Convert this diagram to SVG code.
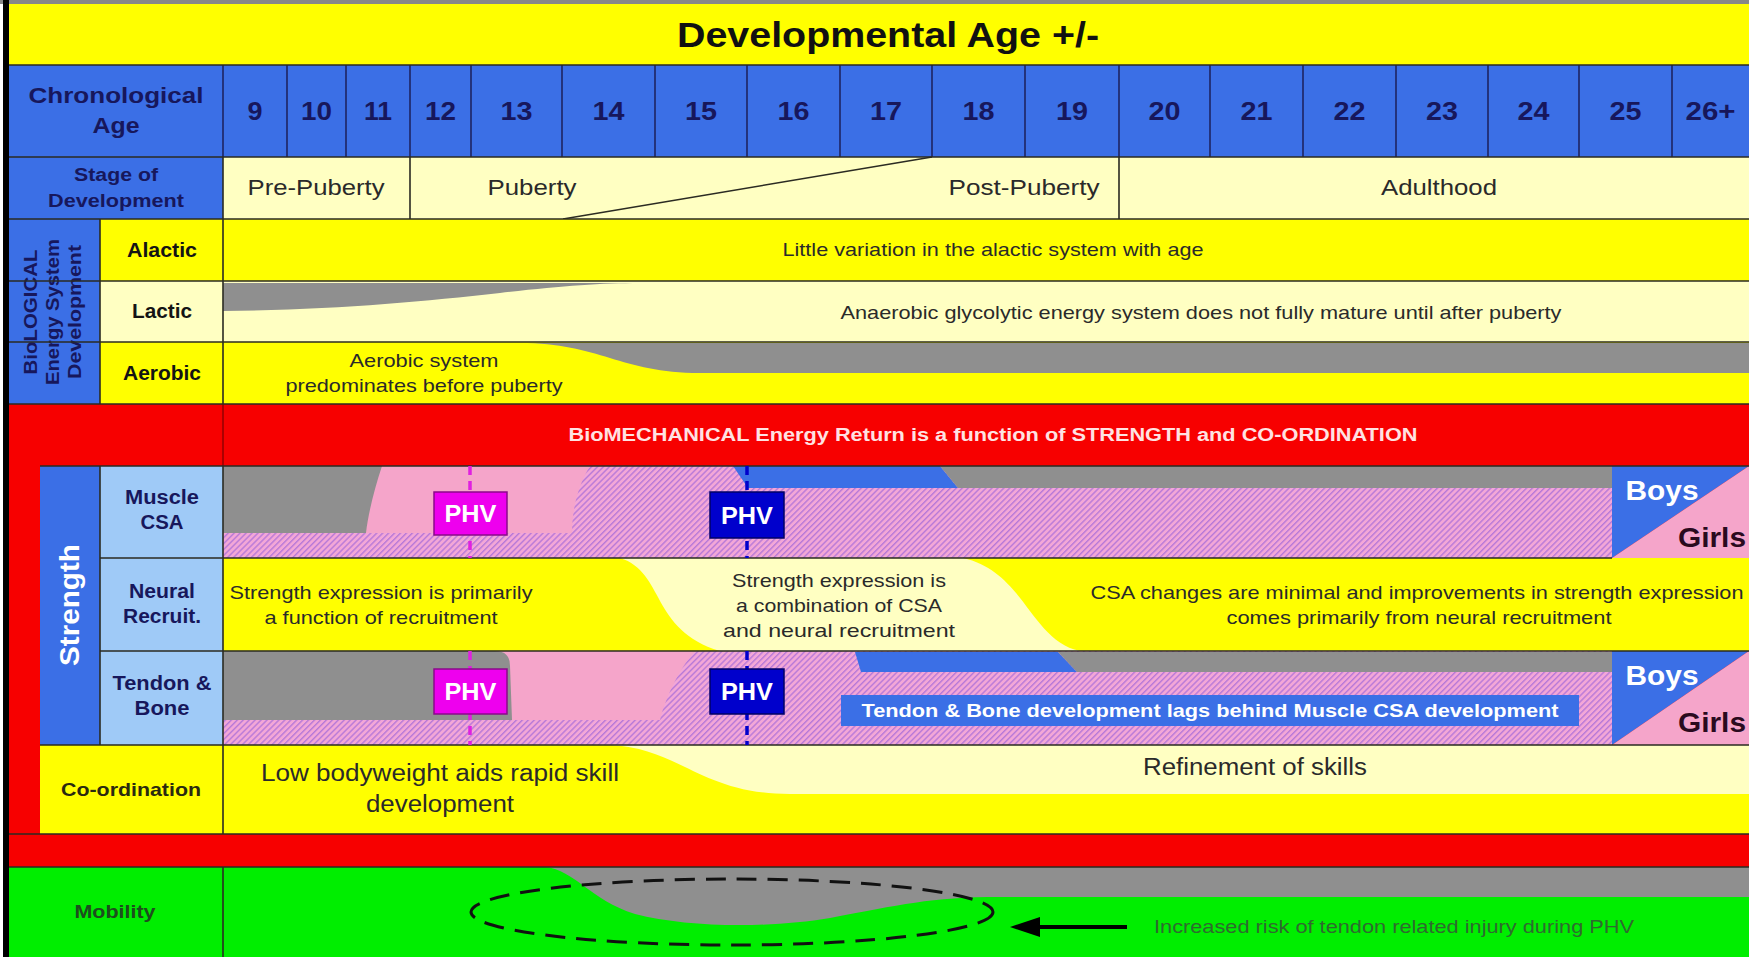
<svg xmlns="http://www.w3.org/2000/svg" width="1749" height="957" viewBox="0 0 1749 957">
<defs>
<pattern id="hatch" width="4.2" height="4.2" patternUnits="userSpaceOnUse" patternTransform="rotate(45)">
<rect width="4.2" height="4.2" fill="#f3a7d7"/>
<rect width="1.4" height="4.2" fill="#b779d8"/>
</pattern>
<marker id="ah" viewBox="0 0 30 20" refX="0" refY="10" markerWidth="30" markerHeight="20" markerUnits="userSpaceOnUse" orient="auto">
<path d="M0,0 L30,10 L0,20 Z" fill="#000"/>
</marker>
<style>
text{font-family:"Liberation Sans",Arial,Helvetica,sans-serif}
.b{font-weight:bold}
.c{text-anchor:middle}
.navy{fill:#17175c}
.hdr{fill:#3b6fe6}
.yel{fill:#ffff00}
.lyel{fill:#ffffc2}
.gray{fill:#8f8f8f}
.pink{fill:#f5a5ca}
.lb{fill:#9fcaf7}
.red{fill:#f70000}
.grn{fill:#00ee00}
.hat{fill:url(#hatch)}
.ln{stroke:#2b2b22;stroke-width:1.6;fill:none}
.lnn{stroke:#1a1a50;stroke-width:1.4;fill:none}
.num{font-size:25px;font-weight:bold;fill:#17175c;text-anchor:middle}
.stg{font-size:22px;fill:#2a2a2a;text-anchor:middle}
.body{font-size:19px;fill:#2a2a2a;text-anchor:middle}
.rl{font-size:20px;font-weight:bold;fill:#141414;text-anchor:middle}
.sl{font-size:20px;font-weight:bold;fill:#17175c;text-anchor:middle}
.phv{font-size:24px;font-weight:bold;fill:#fff;text-anchor:middle}
.boys{font-size:27px;font-weight:bold;fill:#fff;text-anchor:middle}
.girls{font-size:27px;font-weight:bold;fill:#2a0a1e;text-anchor:middle}
.dashm{stroke:#e020e0;stroke-width:3.5;stroke-dasharray:9 6;fill:none}
.dashb{stroke:#0000cc;stroke-width:3.5;stroke-dasharray:9 6;fill:none}
</style>
</defs>

<rect x="0" y="0" width="1749" height="957" fill="#ffffff"/>
<rect x="0" y="0" width="1749" height="4" fill="#888"/>

<g id="title">
<rect x="9" y="4" width="1740" height="61" class="yel"/>
<text x="888" y="47" class="c b" font-size="35" fill="#111" textLength="422" lengthAdjust="spacingAndGlyphs">Developmental Age +/-</text>
</g>

<g id="chronological-age">
<rect x="9" y="65" width="1740" height="92" class="hdr"/>
<text x="116" y="103" class="c b navy" font-size="22" textLength="175" lengthAdjust="spacingAndGlyphs">Chronological</text>
<text x="116" y="133" class="c b navy" font-size="22" textLength="47" lengthAdjust="spacingAndGlyphs">Age</text>
<g id="age-columns">
<path class="lnn" d="M223,65V157 M287,65V157 M346,65V157 M410,65V157 M471,65V157 M562,65V157 M655,65V157 M747,65V157 M840,65V157 M932,65V157 M1025,65V157 M1119,65V157 M1210,65V157 M1303,65V157 M1396,65V157 M1488,65V157 M1579,65V157 M1672,65V157"/>
<text class="num" x="255" y="120" textLength="15" lengthAdjust="spacingAndGlyphs">9</text>
<text class="num" x="316.5" y="120" textLength="31" lengthAdjust="spacingAndGlyphs">10</text>
<text class="num" x="378" y="120" textLength="28" lengthAdjust="spacingAndGlyphs">11</text>
<text class="num" x="440.5" y="120" textLength="31" lengthAdjust="spacingAndGlyphs">12</text>
<text class="num" x="516.5" y="120" textLength="32" lengthAdjust="spacingAndGlyphs">13</text>
<text class="num" x="608.5" y="120" textLength="32" lengthAdjust="spacingAndGlyphs">14</text>
<text class="num" x="701" y="120" textLength="32" lengthAdjust="spacingAndGlyphs">15</text>
<text class="num" x="793.5" y="120" textLength="32" lengthAdjust="spacingAndGlyphs">16</text>
<text class="num" x="886" y="120" textLength="32" lengthAdjust="spacingAndGlyphs">17</text>
<text class="num" x="978.5" y="120" textLength="32" lengthAdjust="spacingAndGlyphs">18</text>
<text class="num" x="1072" y="120" textLength="32" lengthAdjust="spacingAndGlyphs">19</text>
<text class="num" x="1164.5" y="120" textLength="32" lengthAdjust="spacingAndGlyphs">20</text>
<text class="num" x="1256.5" y="120" textLength="32" lengthAdjust="spacingAndGlyphs">21</text>
<text class="num" x="1349.5" y="120" textLength="32" lengthAdjust="spacingAndGlyphs">22</text>
<text class="num" x="1442" y="120" textLength="32" lengthAdjust="spacingAndGlyphs">23</text>
<text class="num" x="1533.5" y="120" textLength="32" lengthAdjust="spacingAndGlyphs">24</text>
<text class="num" x="1625.5" y="120" textLength="32" lengthAdjust="spacingAndGlyphs">25</text>
<text class="num" x="1710.5" y="120" textLength="50" lengthAdjust="spacingAndGlyphs">26+</text>
</g>
</g>

<g id="stage-of-development">
<rect x="9" y="157" width="214" height="62" class="hdr"/>
<rect x="223" y="157" width="1526" height="62" class="lyel"/>
<text x="116" y="181" class="c b navy" font-size="18" textLength="84" lengthAdjust="spacingAndGlyphs">Stage of</text>
<text x="116" y="207" class="c b navy" font-size="18" textLength="136" lengthAdjust="spacingAndGlyphs">Development</text>
<path class="ln" d="M410,157V219 M1119,157V219 M563,219 L932,157"/>
<text class="stg" x="316" y="195" textLength="137" lengthAdjust="spacingAndGlyphs">Pre-Puberty</text>
<text class="stg" x="532" y="195" textLength="89" lengthAdjust="spacingAndGlyphs">Puberty</text>
<text class="stg" x="1024" y="195" textLength="151" lengthAdjust="spacingAndGlyphs">Post-Puberty</text>
<text class="stg" x="1439" y="195" textLength="116" lengthAdjust="spacingAndGlyphs">Adulthood</text>
</g>

<g id="biological">
<rect x="9" y="219" width="91" height="185" class="hdr"/>
<g transform="translate(54,312) rotate(-90)">
<text x="0" y="-17" class="c b navy" font-size="19" textLength="125" lengthAdjust="spacingAndGlyphs">BioLOGICAL</text>
<text x="0" y="5" class="c b navy" font-size="19" textLength="146" lengthAdjust="spacingAndGlyphs">Energy System</text>
<text x="0" y="27" class="c b navy" font-size="19" textLength="134" lengthAdjust="spacingAndGlyphs">Development</text>
</g>
</g>

<g id="alactic">
<rect x="100" y="219" width="1649" height="62" class="yel"/>
<text class="rl" x="162" y="257" textLength="70" lengthAdjust="spacingAndGlyphs">Alactic</text>
<text class="body" x="993" y="256" textLength="421" lengthAdjust="spacingAndGlyphs">Little variation in the alactic system with age</text>
</g>

<g id="lactic">
<rect x="100" y="281" width="1649" height="61" class="lyel"/>
<path class="gray" d="M223,283 L223,311 C330,310 420,302 500,293 C560,286 600,283 640,283 Z"/>
<text class="rl" x="162" y="318" textLength="60" lengthAdjust="spacingAndGlyphs">Lactic</text>
<text class="body" x="1201" y="319" textLength="721" lengthAdjust="spacingAndGlyphs">Anaerobic glycolytic energy system does not fully mature until after puberty</text>
</g>

<g id="aerobic">
<rect x="100" y="342" width="1649" height="62" class="yel"/>
<path class="gray" d="M520,343 C600,343 620,373 700,373 L1749,373 L1749,343 Z"/>
<text class="rl" x="162" y="380" textLength="78" lengthAdjust="spacingAndGlyphs">Aerobic</text>
<text class="body" x="424" y="367" textLength="149" lengthAdjust="spacingAndGlyphs">Aerobic system</text>
<text class="body" x="424" y="392" textLength="277" lengthAdjust="spacingAndGlyphs">predominates before puberty</text>
</g>

<g id="biomechanical">
<rect x="9" y="404" width="1740" height="463" class="red"/>
<path d="M223,404V466" stroke="#7a0000" stroke-width="1.2"/>
<text x="993" y="441" class="c b" font-size="18" fill="#ffe2e2" textLength="849" lengthAdjust="spacingAndGlyphs">BioMECHANICAL Energy Return is a function of STRENGTH and CO-ORDINATION</text>
</g>

<g id="strength">
<rect x="40" y="466" width="60" height="279" class="hdr"/>
<text transform="translate(79,605) rotate(-90)" x="0" y="0" class="c b" font-size="28" fill="#fff" textLength="122" lengthAdjust="spacingAndGlyphs">Strength</text>
</g>

<g id="muscle-csa">
<rect x="100" y="466" width="123" height="92" class="lb"/>
<text class="sl" x="162" y="504" textLength="74" lengthAdjust="spacingAndGlyphs">Muscle</text>
<text class="sl" x="162" y="529" textLength="43" lengthAdjust="spacingAndGlyphs">CSA</text>
<rect x="223" y="466" width="1389" height="92" class="hat"/>
<path class="pink" d="M223,466 L590,466 C578,485 572,510 572,533 L223,533 Z"/>
<path class="gray" d="M223,466 L382,466 C374,490 368,515 366,533 L223,533 Z"/>
<path class="hdr" d="M733,466 L940,466 L958,488 L748,488 Z"/>
<path class="gray" d="M940,466 L1612,466 L1612,488 L958,488 Z"/>
<path class="hdr" d="M1612,466 L1749,466 L1612,558 Z"/>
<path class="pink" d="M1749,466 L1749,558 L1612,558 Z"/>
<text class="boys" x="1662" y="500" textLength="73" lengthAdjust="spacingAndGlyphs">Boys</text>
<text class="girls" x="1712" y="547" textLength="68" lengthAdjust="spacingAndGlyphs">Girls</text>
</g>

<g id="neural-recruitment">
<rect x="100" y="558" width="123" height="93" class="lb"/>
<text class="sl" x="162" y="598" textLength="66" lengthAdjust="spacingAndGlyphs">Neural</text>
<text class="sl" x="162" y="623" textLength="78" lengthAdjust="spacingAndGlyphs">Recruit.</text>
<rect x="223" y="558" width="1526" height="93" class="yel"/>
<path class="lyel" d="M620,558 C665,572 650,630 720,651 L1080,651 C1030,640 1025,572 963,558 Z"/>
<text class="body" x="381" y="599" textLength="303" lengthAdjust="spacingAndGlyphs">Strength expression is primarily</text>
<text class="body" x="381" y="624" textLength="233" lengthAdjust="spacingAndGlyphs">a function of recruitment</text>
<text class="body" x="839" y="587" textLength="214" lengthAdjust="spacingAndGlyphs">Strength expression is</text>
<text class="body" x="839" y="612" textLength="206" lengthAdjust="spacingAndGlyphs">a combination of CSA</text>
<text class="body" x="839" y="637" textLength="232" lengthAdjust="spacingAndGlyphs">and neural recruitment</text>
<text class="body" x="1417" y="599" textLength="653" lengthAdjust="spacingAndGlyphs">CSA changes are minimal and improvements in strength expression</text>
<text class="body" x="1419" y="624" textLength="385" lengthAdjust="spacingAndGlyphs">comes primarily from neural recruitment</text>
</g>

<g id="tendon-bone">
<rect x="100" y="651" width="123" height="94" class="lb"/>
<text class="sl" x="162" y="690" textLength="99" lengthAdjust="spacingAndGlyphs">Tendon &amp;</text>
<text class="sl" x="162" y="715" textLength="55" lengthAdjust="spacingAndGlyphs">Bone</text>
<rect x="223" y="651" width="1389" height="94" class="hat"/>
<path class="pink" d="M223,651 L695,651 C678,670 665,700 660,720 L223,720 Z"/>
<path class="gray" d="M223,651 L495,651 Q510,651 510,666 L512,720 L223,720 Z"/>
<path class="hdr" d="M855,652 L1058,652 L1077,672 L861,672 Z"/>
<path class="gray" d="M1058,652 L1612,652 L1612,672 L1077,672 Z"/>
<rect x="841" y="695" width="738" height="31" class="hdr"/>
<text x="1210" y="717" class="c b" font-size="19" fill="#fff" textLength="697" lengthAdjust="spacingAndGlyphs">Tendon &amp; Bone development lags behind Muscle CSA development</text>
<path class="hdr" d="M1612,651 L1749,651 L1612,745 Z"/>
<path class="pink" d="M1749,651 L1749,745 L1612,745 Z"/>
<text class="boys" x="1662" y="685" textLength="73" lengthAdjust="spacingAndGlyphs">Boys</text>
<text class="girls" x="1712" y="732" textLength="68" lengthAdjust="spacingAndGlyphs">Girls</text>
</g>

<g id="co-ordination">
<rect x="40" y="745" width="1709" height="89" class="yel"/>
<path class="lyel" d="M610,745 C680,748 700,794 790,794 L1749,794 L1749,745 Z"/>
<text x="131" y="796" class="c b" font-size="19" fill="#2a2a10" textLength="140" lengthAdjust="spacingAndGlyphs">Co-ordination</text>
<text x="440" y="781" class="c" font-size="23" fill="#2a2a2a" textLength="358" lengthAdjust="spacingAndGlyphs">Low bodyweight aids rapid skill</text>
<text x="440" y="812" class="c" font-size="23" fill="#2a2a2a" textLength="148" lengthAdjust="spacingAndGlyphs">development</text>
<text x="1255" y="775" class="c" font-size="23" fill="#2a2a2a" textLength="224" lengthAdjust="spacingAndGlyphs">Refinement of skills</text>
</g>

<g id="mobility">
<rect x="9" y="867" width="1740" height="90" class="grn"/>
<path class="gray" d="M545,867 C575,870 590,900 635,914 C690,928 770,928 830,918 C900,905 930,897 1000,897 L1749,897 L1749,867 Z"/>
<ellipse cx="732" cy="912" rx="261" ry="33" fill="none" stroke="#111" stroke-width="3" stroke-dasharray="20 11"/>
<text x="115" y="918" class="c b" font-size="19" fill="#1e4d1e" textLength="81" lengthAdjust="spacingAndGlyphs">Mobility</text>
<text x="1154" y="933" font-size="19" fill="#2f6a2f" textLength="480" lengthAdjust="spacingAndGlyphs">Increased risk of tendon related injury during PHV</text>
</g>

<g id="grid-lines">
<path class="ln" d="M9,65H1749 M9,157H1749 M9,219H1749 M9,281H1749 M9,342H1749 M9,404H1749 M40,466H1749 M100,558H1612 M100,651H1749 M40,745H1749 M9,834H1749 M9,867H1749"/>
<path class="ln" d="M223,157V404 M100,219V404 M100,466V745 M223,466V834 M223,867V957"/>
</g>

<g id="connectors">
<path class="dashm" d="M470,466V558 M470,651V745"/>
<path class="dashb" d="M747,466V558 M747,651V745"/>
<line x1="1127" y1="927" x2="1040" y2="927" stroke="#000" stroke-width="4" marker-end="url(#ah)"/>
</g>

<g id="phv-girls">
<rect x="434" y="492" width="73" height="43" fill="#ee00ee" stroke="#8a0a8a" stroke-width="1.5"/>
<text class="phv" x="470.5" y="522" textLength="52" lengthAdjust="spacingAndGlyphs">PHV</text>
<rect x="434" y="669" width="73" height="45" fill="#ee00ee" stroke="#8a0a8a" stroke-width="1.5"/>
<text class="phv" x="470.5" y="700" textLength="52" lengthAdjust="spacingAndGlyphs">PHV</text>
</g>
<g id="phv-boys">
<rect x="710" y="492" width="74" height="46" fill="#0000cc" stroke="#000066" stroke-width="1.5"/>
<text class="phv" x="747" y="524" textLength="52" lengthAdjust="spacingAndGlyphs">PHV</text>
<rect x="710" y="669" width="74" height="45" fill="#0000cc" stroke="#000066" stroke-width="1.5"/>
<text class="phv" x="747" y="700" textLength="52" lengthAdjust="spacingAndGlyphs">PHV</text>
</g>

<rect x="3" y="0" width="6" height="957" fill="#000"/>
</svg>
